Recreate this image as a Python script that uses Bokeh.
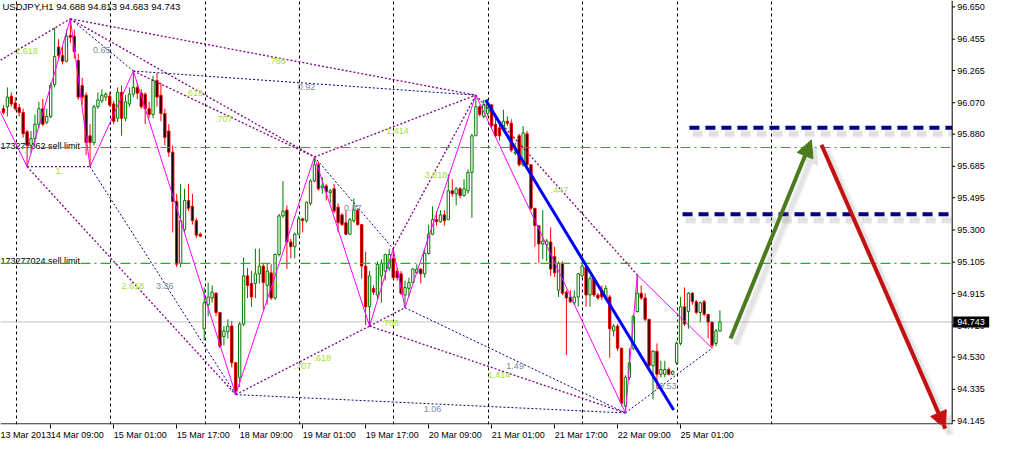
from bokeh.plotting import figure
from bokeh.models import (LinearAxis, FixedTicker, Grid, Arrow, NormalHead, ColumnDataSource, Span)
from bokeh.core.properties import value
from bokeh.embed import file_html
from bokeh.resources import INLINE

# ---------------- data ----------------
header_text = "USDJPY,H1  94.688 94.813 94.683 94.743"

opens = [96.034, 96.046, 96.110, 96.069, 96.040, 96.011, 95.894, 95.812, 95.853, 95.940,
         96.034, 95.952, 95.987, 96.180, 96.408, 96.356, 96.321, 96.478, 96.473, 96.326,
         96.174, 96.116, 95.870, 95.829, 96.046, 96.081, 96.104, 96.110, 96.063, 95.976,
         96.133, 95.976, 96.063, 96.122, 96.163, 96.128, 96.122, 96.034, 95.999, 96.204,
         96.116, 96.005, 95.899, 95.771, 95.473, 95.098, 95.303, 95.478, 95.443, 95.356,
         95.274, 94.701, 94.847, 94.888, 94.917, 94.800, 94.655, 94.684, 94.718, 94.496,
         94.408, 94.730, 95.022, 94.976, 94.976, 95.034, 95.081, 94.964, 95.040, 94.888,
         95.151, 95.385, 95.420, 95.227, 95.198, 95.274, 95.367, 95.356, 95.461, 95.596,
         95.695, 95.555, 95.566, 95.525, 95.549, 95.438, 95.391, 95.344, 95.274, 95.356,
         95.420, 95.332, 95.081, 94.835, 94.946, 94.906, 95.022, 95.051, 95.069, 95.128,
         95.051, 95.034, 94.906, 94.946, 94.981, 95.040, 95.063, 95.034, 95.157, 95.274,
         95.362, 95.350, 95.391, 95.362, 95.537, 95.519, 95.549, 95.508, 95.537, 95.648,
         95.870, 96.046, 95.987, 96.005, 96.057, 95.940, 95.917, 95.911, 95.958, 95.946,
         95.765, 95.870, 95.695, 95.882, 95.695, 95.431, 95.326, 95.215, 95.209, 95.227,
         95.139, 94.935, 95.098, 94.923, 94.894, 94.859, 94.894, 95.022, 95.075, 94.906,
         95.005, 94.906, 94.935, 94.888, 94.894, 94.689, 94.718, 94.584, 94.233, 94.408,
         94.584, 94.806, 94.917, 94.888, 94.759, 94.478, 94.566, 94.426, 94.426, 94.455,
         94.426, 94.496, 94.613, 94.835, 94.806, 94.917, 94.865, 94.800, 94.865, 94.789,
         94.742, 94.613, 94.688]
highs = [96.057, 96.163, 96.133, 96.104, 96.063, 96.034, 95.905, 95.899, 95.999, 96.075,
         96.093, 96.034, 96.192, 96.525, 96.455, 96.414, 96.514, 96.578, 96.514, 96.367,
         96.221, 96.133, 95.940, 96.057, 96.133, 96.151, 96.133, 96.133, 96.081, 96.163,
         96.174, 96.116, 96.163, 96.262, 96.192, 96.151, 96.133, 96.075, 96.233, 96.250,
         96.192, 96.034, 95.940, 95.812, 95.519, 95.578, 95.549, 95.578, 95.519, 95.373,
         95.285, 94.952, 94.981, 94.964, 94.923, 94.800, 94.718, 94.759, 94.748, 94.496,
         94.742, 95.133, 95.069, 95.051, 95.186, 95.186, 95.098, 95.098, 95.092, 95.157,
         95.397, 95.596, 95.449, 95.245, 95.285, 95.385, 95.373, 95.473, 95.607, 95.742,
         95.712, 95.619, 95.578, 95.549, 95.578, 95.461, 95.402, 95.420, 95.373, 95.490,
         95.431, 95.332, 95.168, 95.051, 94.964, 95.110, 95.122, 95.157, 95.186, 95.186,
         95.069, 95.051, 94.993, 95.011, 95.069, 95.092, 95.069, 95.186, 95.332, 95.443,
         95.414, 95.420, 95.420, 95.636, 95.607, 95.560, 95.560, 95.607, 95.666, 95.882,
         96.116, 96.057, 96.087, 96.093, 96.063, 95.976, 95.940, 96.028, 95.987, 95.970,
         95.829, 95.882, 95.929, 95.899, 95.695, 95.431, 95.326, 95.420, 95.245, 95.315,
         95.198, 95.110, 95.110, 94.935, 94.935, 94.935, 95.040, 95.110, 95.081, 95.022,
         95.011, 94.917, 94.964, 94.964, 94.906, 94.730, 94.730, 94.584, 94.420, 94.584,
         94.789, 95.028, 94.964, 94.917, 94.759, 94.572, 94.613, 94.508, 94.508, 94.467,
         94.449, 94.625, 94.894, 94.952, 94.923, 94.923, 94.876, 94.865, 94.876, 94.789,
         94.742, 94.701, 94.813]
lows = [95.999, 95.987, 96.046, 96.022, 95.987, 95.859, 95.683, 95.765, 95.824, 95.917,
        95.929, 95.940, 95.976, 96.163, 96.326, 96.303, 96.315, 96.432, 96.338, 96.087,
        96.057, 95.753, 95.683, 95.812, 96.034, 96.069, 96.081, 96.046, 95.940, 95.952,
        95.870, 95.958, 96.046, 96.104, 96.093, 96.034, 95.940, 95.976, 95.976, 96.046,
        95.958, 95.812, 95.742, 95.285, 95.075, 95.075, 95.285, 95.414, 95.332, 95.250,
        95.256, 94.631, 94.777, 94.859, 94.777, 94.584, 94.601, 94.643, 94.467, 94.303,
        94.350, 94.718, 94.888, 94.835, 94.888, 94.976, 94.818, 94.847, 94.876, 94.876,
        95.139, 95.373, 95.063, 95.128, 95.128, 95.268, 95.285, 95.344, 95.449, 95.590,
        95.537, 95.519, 95.478, 95.461, 95.402, 95.285, 95.326, 95.268, 95.268, 95.344,
        95.326, 95.005, 94.724, 94.718, 94.906, 94.876, 94.859, 94.993, 95.051, 95.005,
        94.993, 94.906, 94.829, 94.894, 94.976, 95.034, 94.976, 95.011, 95.151, 95.268,
        95.326, 95.344, 95.326, 95.362, 95.502, 95.449, 95.490, 95.502, 95.519, 95.373,
        95.870, 95.987, 95.976, 95.987, 95.917, 95.859, 95.841, 95.899, 95.929, 95.771,
        95.753, 95.683, 95.683, 95.683, 95.420, 95.198, 95.098, 95.122, 95.110, 95.022,
        95.016, 94.894, 94.906, 94.543, 94.859, 94.847, 94.835, 95.011, 94.835, 94.835,
        94.894, 94.876, 94.876, 94.876, 94.526, 94.655, 94.566, 94.233, 94.192, 94.391,
        94.572, 94.800, 94.876, 94.748, 94.467, 94.274, 94.338, 94.408, 94.408, 94.420,
        94.420, 94.484, 94.601, 94.718, 94.701, 94.847, 94.789, 94.742, 94.777, 94.643,
        94.584, 94.596, 94.683]
closes = [96.011, 96.104, 96.063, 96.034, 96.011, 95.882, 95.812, 95.853, 95.940, 96.034,
          95.940, 95.987, 96.174, 96.350, 96.356, 96.321, 96.473, 96.467, 96.379, 96.104,
          96.104, 95.829, 95.829, 96.046, 96.087, 96.116, 96.122, 96.057, 95.958, 96.133,
          95.976, 96.075, 96.122, 96.163, 96.128, 96.046, 96.034, 95.999, 96.204, 96.104,
          96.005, 95.859, 95.771, 95.473, 95.092, 95.356, 95.478, 95.431, 95.356, 95.268,
          95.262, 94.859, 94.894, 94.923, 94.800, 94.596, 94.689, 94.718, 94.496, 94.321,
          94.730, 95.022, 94.964, 94.894, 95.034, 95.081, 94.981, 95.051, 94.888, 95.151,
          95.385, 95.414, 95.227, 95.198, 95.274, 95.367, 95.356, 95.467, 95.596, 95.695,
          95.549, 95.566, 95.531, 95.537, 95.414, 95.344, 95.332, 95.274, 95.362, 95.420,
          95.332, 95.081, 94.835, 95.022, 94.923, 95.092, 95.098, 95.151, 95.151, 95.011,
          95.011, 94.917, 94.952, 94.981, 95.063, 95.063, 95.034, 95.157, 95.274, 95.362,
          95.350, 95.391, 95.356, 95.537, 95.519, 95.549, 95.508, 95.549, 95.648, 95.870,
          96.046, 95.999, 96.057, 96.063, 95.929, 95.870, 95.870, 95.958, 95.946, 95.783,
          95.771, 95.695, 95.888, 95.695, 95.431, 95.326, 95.215, 95.233, 95.233, 95.063,
          95.040, 95.098, 94.917, 94.888, 94.865, 94.894, 95.034, 95.081, 94.906, 95.005,
          94.906, 94.888, 94.894, 94.946, 94.701, 94.718, 94.584, 94.251, 94.408, 94.496,
          94.777, 94.917, 94.888, 94.759, 94.478, 94.566, 94.426, 94.455, 94.455, 94.426,
          94.443, 94.613, 94.835, 94.730, 94.917, 94.865, 94.800, 94.859, 94.789, 94.742,
          94.601, 94.689, 94.743]

date_tick_bars = [-4, 12, 28, 44, 60, 76, 92, 108, 124, 140, 156, 172]
date_tick_labels = ["13 Mar 2013", "14 Mar 09:00", "15 Mar 01:00", "15 Mar 17:00",
                    "18 Mar 09:00", "19 Mar 01:00", "19 Mar 17:00", "20 Mar 09:00",
                    "21 Mar 01:00", "21 Mar 17:00", "22 Mar 09:00", "25 Mar 01:00"]
day_start_bars = [3, 27, 51, 75, 99, 123, 147, 171, 195]
price_ticks = [96.650, 96.455, 96.265, 96.070, 95.880, 95.685, 95.495, 95.300,
               95.105, 94.915, 94.720, 94.530, 94.335, 94.145]

# swing pivots (bar index, high/low)
pivot_bars = [6, 17, 22, 33, 59, 79, 93, 99, 102, 120, 158, 161, 180]
pivot_kinds = ["L", "H", "L", "H", "L", "H", "L", "H", "L", "H", "L", "H", "L"]
zigzag_start_bar, zigzag_start_price = -4, 96.171
fib_start_bar, fib_start_price = -6, 96.254
purple_pairs = [(1, 9), (1, 5), (3, 5), (0, 2), (0, 4), (4, 6), (5, 9),
                (7, 9), (6, 8), (6, 10), (9, 11)]
navy_pairs = [(1, 3), (3, 9), (2, 4), (4, 10), (5, 7), (8, 10), (10, 12)]

ratio_text = ["1.618", ".786", ".618", ".707", "1.", "2.618", ".707", ".618",
              "1.414", "3.618", ".706", ".447", "1.414",
              "0.65", "0.92", "3.36", "0.87", "1.06", "1.49", "0.53"]
ratio_bar = [3.0, 67.25, 46.25, 53.75, 13.25, 30.0, 73.75, 78.75,
             97.25, 107.0, 96.0, 139.0, 123.0,
             22.75, 74.75, 38.75, 86.5, 106.75, 127.75, 166.5]
ratio_price = [96.385, 96.321, 96.128, 95.970, 95.654, 94.958, 94.478, 94.525,
               95.899, 95.631, 94.736, 95.543, 94.420,
               96.391, 96.163, 94.958, 95.432, 94.215, 94.478, 94.356]
ratio_kind = ["fib"] * 13 + ["ratio"] * 7

sell_limit_prices = [95.799, 95.097]
sell_limit_names = ["173277062 sell limit", "173277024 sell limit"]

level_prices = [95.919, 95.395]
level_start_bars = [174.25, 172.5]

trend_bars = [122.5, 170.25]
trend_prices = [96.087, 94.210]

up_arrow = (184.7, 94.643, 205.25, 95.845)
down_arrow = (207.8, 95.816, 239.25, 94.097)

# ---------------- layout / styling ----------------
FONT = "Liberation Sans"
FS = "9px"
W, H = 995, 443
BOTTOM = 19
X_LO, X_HI = -0.75, 252.0          # whole width (price scale area included)
AXIS_X = 241.0                     # price scale line position (bar units)
Y_LO, Y_HI = 94.122, 96.689
PX_PER_BAR = W / (X_HI - X_LO)
PX_PER_PRICE = (H - BOTTOM) / (Y_HI - Y_LO)

p = figure(width=W, height=H, x_range=(X_LO, X_HI), y_range=(Y_LO, Y_HI),
           x_axis_location=None, y_axis_location=None,
           output_backend="svg", toolbar_location=None,
           min_border_left=0, min_border_top=0, min_border_right=0, min_border_bottom=BOTTOM,
           background_fill_color="white", border_fill_color="white",
           outline_line_color=None)
p.grid.visible = False

vgrid = Grid(dimension=0, ticker=FixedTicker(ticks=[b + 0.2 for b in day_start_bars]),
             grid_line_color="black", grid_line_dash="3 3", grid_line_width=1)
p.add_layout(vgrid)

# time axis: tick marks, then labels starting at each tick
xax = LinearAxis(ticker=FixedTicker(ticks=date_tick_bars),
                 major_label_overrides={b: "" for b in date_tick_bars})
xax.major_tick_out = 4
xax.major_tick_in = 0
xax.minor_tick_out = 0
xax.minor_tick_in = 0
xax.axis_line_color = None
xax.major_tick_line_color = "black"
xax.major_label_text_font_size = "0px"
xax.major_label_standoff = 0
p.add_layout(xax, "below")

label_shift = [4.5] + [6.75] * (len(date_tick_bars) - 1)
label_pos = [b + s for b, s in zip(date_tick_bars, label_shift)]
xlab = LinearAxis(ticker=FixedTicker(ticks=label_pos),
                  major_label_overrides={x: t for x, t in zip(label_pos, date_tick_labels)})
xlab.major_tick_out = 0
xlab.major_tick_in = 0
xlab.minor_tick_out = 0
xlab.minor_tick_in = 0
xlab.axis_line_color = None
xlab.major_tick_line_color = None
xlab.major_label_standoff = 1
xlab.major_label_text_font = FONT
xlab.major_label_text_font_size = FS
xlab.major_label_text_color = "black"
p.add_layout(xlab, "below")

# current price line
p.add_layout(Span(location=closes[-1], dimension="width", line_color="#c0c0c0",
                  line_width=1, level="underlay"))
p.quad(left=[AXIS_X], right=[X_HI], bottom=[Y_LO], top=[Y_HI],
       fill_color="white", line_color=None)
p.text(x=[X_LO] * 2, y=sell_limit_prices, text=sell_limit_names,
       text_align="left", text_baseline="alphabetic", y_offset=-2,
       text_font=value(FONT), text_font_size=value(FS), text_color="black")

# candles
GREEN, RED = "#007a00", "#ff0000"
up = [c >= o for o, c in zip(opens, closes)]
src = ColumnDataSource(dict(
    x=list(range(len(opens))), h=highs, l=lows,
    top=[max(o, c) for o, c in zip(opens, closes)],
    bottom=[min(o, c) for o, c in zip(opens, closes)],
    lc=[GREEN if u else RED for u in up],
    fc=["white" if u else "black" for u in up]))
p.segment(x0="x", y0="l", x1="x", y1="h", line_color="lc", line_width=1, source=src)
p.vbar(x="x", width=0.6, top="top", bottom="bottom", fill_color="fc",
       line_color="lc", line_width=1, source=src)

# sell-limit order lines (green dash-dot)
p.segment(x0=[X_LO] * 2, y0=sell_limit_prices, x1=[AXIS_X] * 2, y1=sell_limit_prices,
          line_color="#1fb51f", line_width=1.2, line_dash="10 4 2 4")

# pattern lines
piv_price = [highs[b] if k == "H" else lows[b] for b, k in zip(pivot_bars, pivot_kinds)]
PURPLE, NAVY = "#800080", "#000080"
p.segment(x0=[fib_start_bar] + [pivot_bars[a] for a, b in purple_pairs],
          y0=[fib_start_price] + [piv_price[a] for a, b in purple_pairs],
          x1=[pivot_bars[1]] + [pivot_bars[b] for a, b in purple_pairs],
          y1=[piv_price[1]] + [piv_price[b] for a, b in purple_pairs],
          line_color=PURPLE, line_width=1.3, line_dash="2 2")
p.segment(x0=[pivot_bars[a] for a, b in navy_pairs], y0=[piv_price[a] for a, b in navy_pairs],
          x1=[pivot_bars[b] for a, b in navy_pairs], y1=[piv_price[b] for a, b in navy_pairs],
          line_color=NAVY, line_width=1, line_dash="2 2")
p.line(x=[zigzag_start_bar] + pivot_bars, y=[zigzag_start_price] + piv_price,
       line_color="#ff00ff", line_width=1)

ratio_colors = ["#a6e034" if k == "fib" else "#7a8a99" for k in ratio_kind]
p.text(x=ratio_bar, y=ratio_price, text=ratio_text, text_color=ratio_colors,
       text_align="left", text_baseline="middle",
       text_font=value(FONT), text_font_size=value(FS))

# trend line
p.line(x=trend_bars, y=trend_prices, line_color="#0000ff", line_width=3)

# navy levels with soft shadow
sh_dy = 6 / PX_PER_PRICE
for w, a in ((8, 0.10), (5, 0.15)):
    p.segment(x0=[b + 0.8 for b in level_start_bars], y0=[lp - sh_dy for lp in level_prices],
              x1=[AXIS_X] * 2, y1=[lp - sh_dy for lp in level_prices],
              line_color="#808080", line_alpha=a, line_width=w, line_dash="10 6")
p.segment(x0=level_start_bars, y0=level_prices, x1=[AXIS_X] * 2, y1=level_prices,
          line_color=NAVY, line_width=4, line_dash="10 6")

# arrows with soft shadow
def add_arrow(a, color):
    x0, y0, x1, y1 = a
    dx, dy = 1.3, -6 / PX_PER_PRICE
    for w, al in ((9, 0.08), (5, 0.14)):
        p.add_layout(Arrow(x_start=x0 + dx, y_start=y0 + dy, x_end=x1 + dx, y_end=y1 + dy,
                           line_color="#808080", line_alpha=al, line_width=w,
                           end=NormalHead(size=18, fill_color="#808080", fill_alpha=al,
                                          line_color=None)))
    p.add_layout(Arrow(x_start=x0, y_start=y0, x_end=x1, y_end=y1,
                       line_color=color, line_width=4,
                       end=NormalHead(size=17, fill_color=color, line_color=color,
                                      line_width=1)))

add_arrow(up_arrow, "#4b7a1f")
add_arrow(down_arrow, "#c41010")

# price scale drawn at the right of the chart area
p.segment(x0=[AXIS_X], y0=[Y_LO], x1=[AXIS_X], y1=[Y_HI], line_color="black", line_width=1)
p.segment(x0=[X_LO], y0=[Y_LO + 0.6 / PX_PER_PRICE], x1=[AXIS_X], y1=[Y_LO + 0.6 / PX_PER_PRICE],
          line_color="black", line_width=1)
p.segment(x0=[AXIS_X] * len(price_ticks), y0=price_ticks,
          x1=[AXIS_X + 3 / PX_PER_BAR] * len(price_ticks), y1=price_ticks,
          line_color="black", line_width=1)
p.text(x=[AXIS_X] * len(price_ticks), y=price_ticks, text=["%.3f" % t for t in price_ticks],
       x_offset=5, text_align="left", text_baseline="middle",
       text_font=value(FONT), text_font_size=value(FS), text_color="black")

# current price tag
p.rect(x=[AXIS_X + 19 / PX_PER_BAR], y=[closes[-1]], width=36, height=11,
       width_units="screen", height_units="screen", fill_color="black", line_color=None)
p.text(x=[AXIS_X], y=[closes[-1]], text=["%.3f" % closes[-1]], x_offset=5,
       text_align="left", text_baseline="middle",
       text_font=value(FONT), text_font_size=value(FS), text_color="white")

# header
p.text(x=[X_LO], y=[Y_HI], text=[header_text], text_align="left", text_baseline="top",
       x_offset=2, y_offset=0, text_font=value(FONT), text_font_size=value("9.5px"),
       text_color="black")

open("out.html", "w").write(file_html(p, INLINE))
